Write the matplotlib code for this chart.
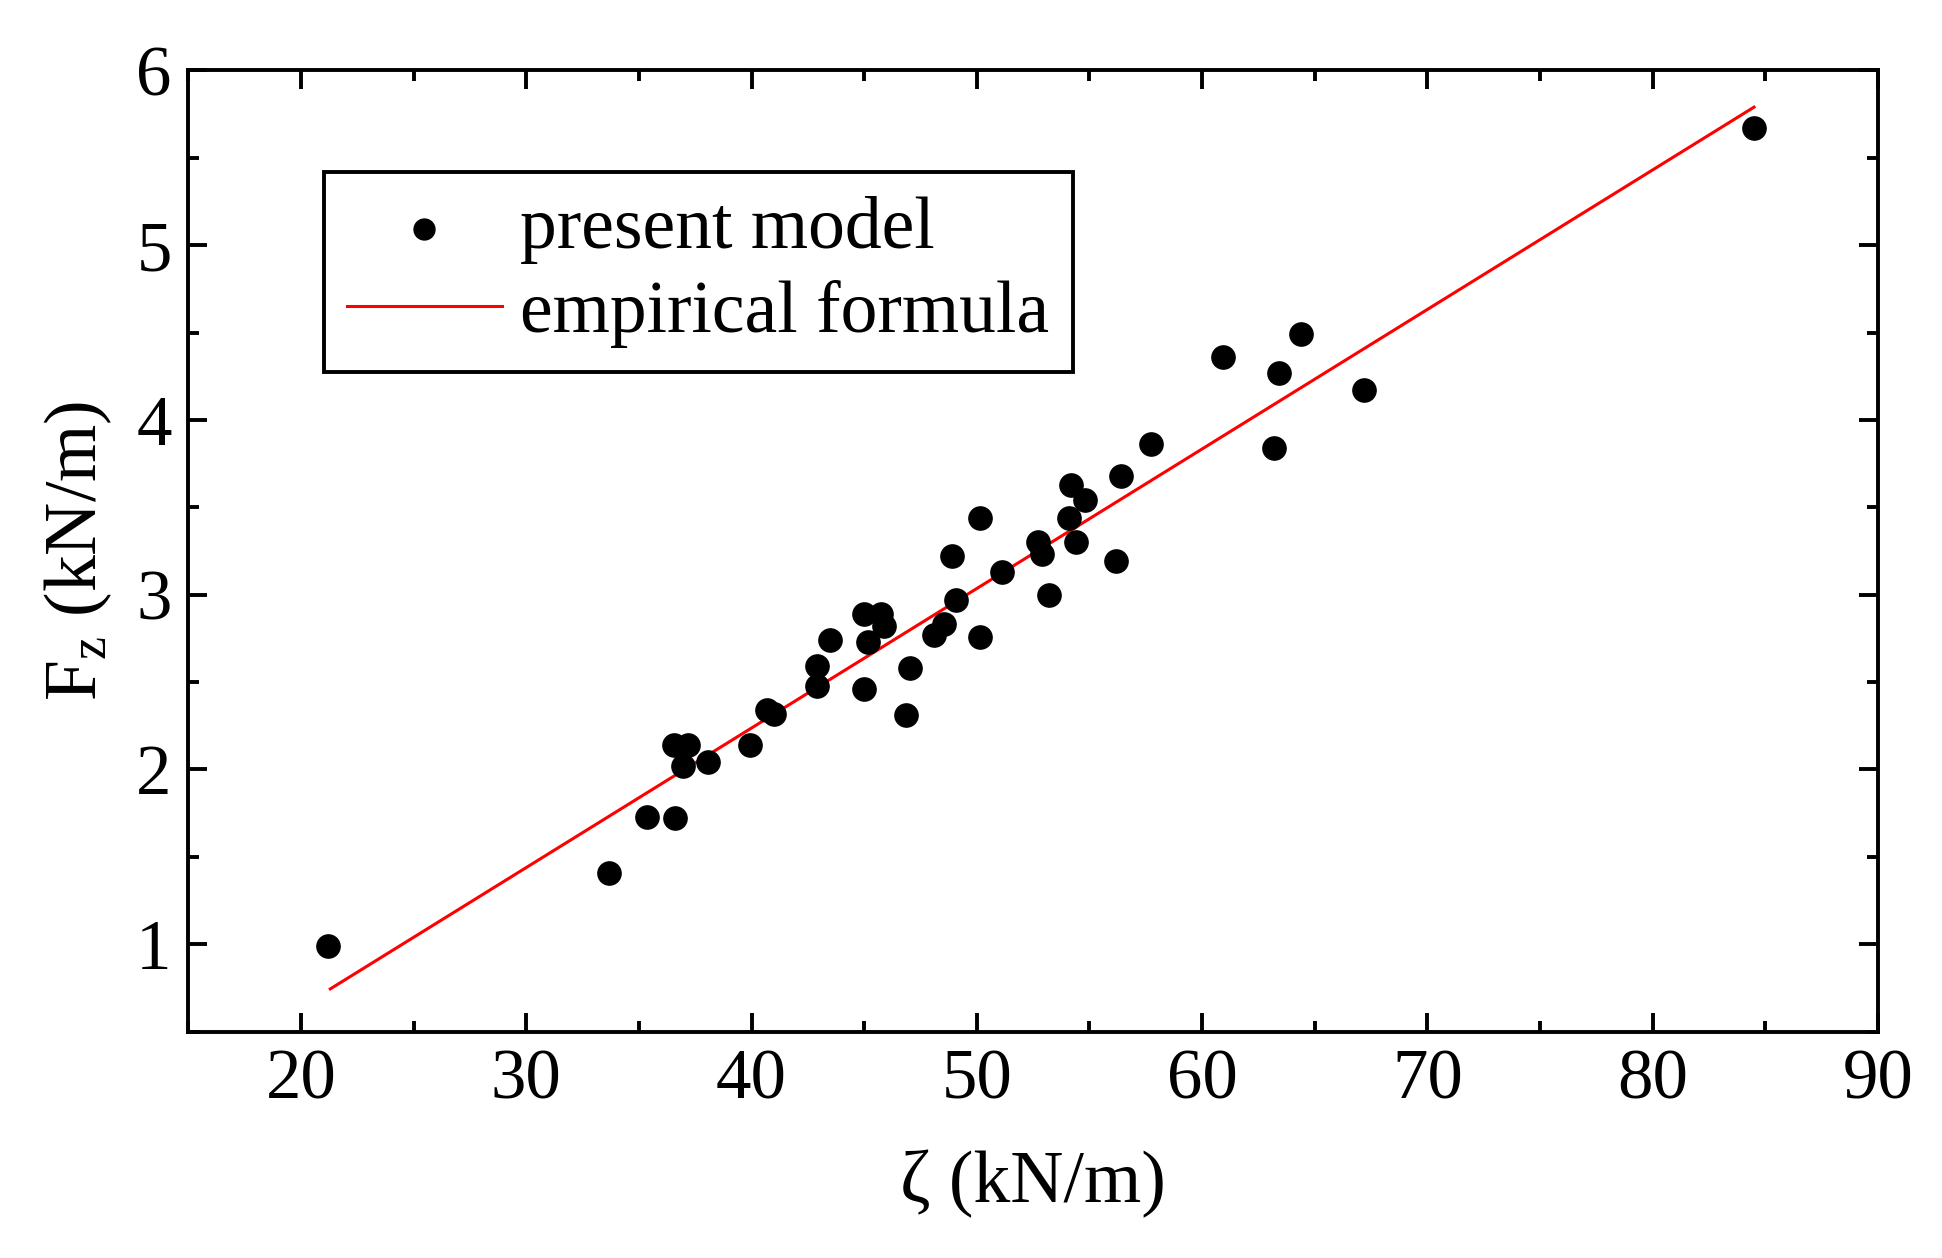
import matplotlib
matplotlib.use("Agg")
import matplotlib.pyplot as plt
from matplotlib.ticker import MultipleLocator

# Data
zeta = [21.2, 33.65, 35.36, 36.6, 36.57, 37.17, 36.95, 38.05, 39.92, 40.69, 41.0,
        42.9, 42.9, 43.5, 44.99, 45.15, 45.76, 45.87, 44.99, 47.02, 46.86, 48.12,
        48.56, 48.9, 49.06, 50.16, 50.16, 51.1, 52.7, 52.9, 53.2, 54.2, 54.1, 54.8,
        54.4, 56.2, 56.4, 57.75, 60.95, 63.2, 63.4, 64.4, 67.2, 84.5]
fz = [0.99, 1.41, 1.73, 1.72, 2.14, 2.14, 2.02, 2.04, 2.14, 2.34, 2.32,
      2.59, 2.48, 2.74, 2.89, 2.73, 2.89, 2.82, 2.46, 2.58, 2.31, 2.77,
      2.83, 3.22, 2.97, 2.76, 3.44, 3.13, 3.30, 3.23, 3.00, 3.63, 3.44, 3.54,
      3.30, 3.19, 3.68, 3.86, 4.36, 3.84, 4.27, 4.49, 4.17, 5.67]
fit_x = [21.3, 84.5]
fit_y = [0.744, 5.79]

plt.rcParams['font.family'] = ['Liberation Serif', 'DejaVu Serif']
plt.rcParams['mathtext.fontset'] = 'custom'
plt.rcParams['mathtext.rm'] = 'Liberation Serif'
plt.rcParams['mathtext.it'] = 'Liberation Serif:italic'

fig = plt.figure(figsize=(19.42, 12.58), dpi=100)
ax = fig.add_axes([0.097, 0.18, 0.870, 0.764])

ax.scatter(zeta, fz, s=280, color='black', marker='o', label='present model', zorder=3)
ax.plot(fit_x, fit_y, color='red', lw=2.2, label='empirical formula', zorder=2)

ax.set_xlim(15, 90)
ax.set_ylim(0.5, 6)
ax.xaxis.set_major_locator(MultipleLocator(10))
ax.xaxis.set_minor_locator(MultipleLocator(5))
ax.yaxis.set_major_locator(MultipleLocator(1))
ax.yaxis.set_minor_locator(MultipleLocator(0.5))
ax.set_xticks([20, 30, 40, 50, 60, 70, 80, 90])
ax.set_yticks([1, 2, 3, 4, 5, 6])

ax.tick_params(which='both', direction='in', top=True, right=True, width=2.8)
ax.tick_params(which='major', length=14, labelsize=51)
ax.tick_params(which='minor', length=8)
ax.tick_params(axis='y', which='major', pad=12)
ax.tick_params(axis='x', which='major', pad=12)
for s in ax.spines.values():
    s.set_linewidth(2.8)

ax.set_xlabel('ζ (kN/m)', fontsize=53, labelpad=26)
ax.set_ylabel('F$_\\mathrm{z}$ (kN/m)', fontsize=53, labelpad=16)

leg = ax.legend(loc='upper left', bbox_to_anchor=(0.08, 0.894), fontsize=53,
                frameon=True, fancybox=False, edgecolor='black', framealpha=1,
                handlelength=2.1, handletextpad=0.25, borderpad=0.32,
                labelspacing=0.22, borderaxespad=0, markerscale=0.9)
leg.get_frame().set_linewidth(2.8)

fig.savefig('out.png', dpi=100)
